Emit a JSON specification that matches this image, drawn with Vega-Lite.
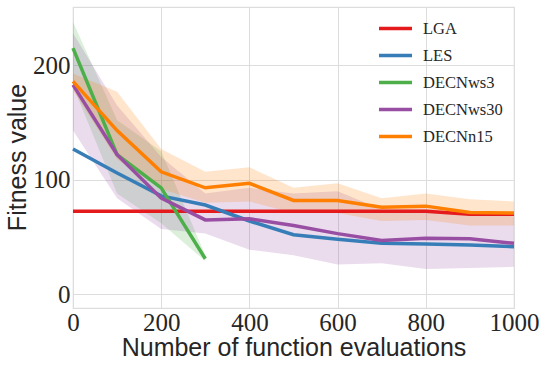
{
  "$schema": "https://vega.github.io/schema/vega-lite/v6.json",
  "width": 441,
  "height": 301,
  "autosize": {"type": "none"},
  "padding": {"left": 73, "top": 7, "right": 34, "bottom": 58},
  "background": "white",
  "config": {
    "view": {"stroke": "#dddddd", "strokeWidth": 1.2},
    "axis": {
      "grid": true,
      "gridColor": "#dddddd",
      "gridWidth": 1,
      "domain": false,
      "ticks": false,
      "labelFont": "Liberation Serif",
      "labelFontSize": 25,
      "labelColor": "#262626",
      "titleFont": "Liberation Sans",
      "titleFontSize": 25,
      "titleFontWeight": "normal",
      "titleColor": "#262626"
    },
    "legend": {
      "labelFont": "Liberation Serif",
      "labelFontSize": 16.5,
      "labelColor": "#262626"
    }
  },
  "data": {
    "values": [
      {"method": "LGA", "x": 0, "y": 72.5},
      {"method": "LGA", "x": 100, "y": 72.5},
      {"method": "LGA", "x": 200, "y": 72.5},
      {"method": "LGA", "x": 300, "y": 72.5},
      {"method": "LGA", "x": 400, "y": 72.5},
      {"method": "LGA", "x": 500, "y": 72.5},
      {"method": "LGA", "x": 600, "y": 72.5},
      {"method": "LGA", "x": 700, "y": 72.5},
      {"method": "LGA", "x": 800, "y": 72.5},
      {"method": "LGA", "x": 900, "y": 70},
      {"method": "LGA", "x": 1000, "y": 70},
      {"method": "LES", "x": 0, "y": 127},
      {"method": "LES", "x": 100, "y": 106},
      {"method": "LES", "x": 200, "y": 86},
      {"method": "LES", "x": 300, "y": 78},
      {"method": "LES", "x": 400, "y": 64},
      {"method": "LES", "x": 500, "y": 52},
      {"method": "LES", "x": 600, "y": 48},
      {"method": "LES", "x": 700, "y": 44.5},
      {"method": "LES", "x": 800, "y": 44},
      {"method": "LES", "x": 900, "y": 43},
      {"method": "LES", "x": 1000, "y": 41.6},
      {"method": "DECNws3", "x": 0, "y": 215, "lo": 182, "hi": 238},
      {"method": "DECNws3", "x": 100, "y": 122, "lo": 88, "hi": 152},
      {"method": "DECNws3", "x": 200, "y": 93, "lo": 62, "hi": 125},
      {"method": "DECNws3", "x": 300, "y": 31, "lo": 29, "hi": 34},
      {"method": "DECNws30", "x": 0, "y": 183, "lo": 143, "hi": 228},
      {"method": "DECNws30", "x": 100, "y": 122, "lo": 84, "hi": 165},
      {"method": "DECNws30", "x": 200, "y": 84, "lo": 57, "hi": 120},
      {"method": "DECNws30", "x": 300, "y": 65, "lo": 53, "hi": 88},
      {"method": "DECNws30", "x": 400, "y": 66, "lo": 39, "hi": 93},
      {"method": "DECNws30", "x": 500, "y": 60, "lo": 34, "hi": 88},
      {"method": "DECNws30", "x": 600, "y": 53, "lo": 26, "hi": 90},
      {"method": "DECNws30", "x": 700, "y": 47, "lo": 27, "hi": 74},
      {"method": "DECNws30", "x": 800, "y": 49, "lo": 22, "hi": 75},
      {"method": "DECNws30", "x": 900, "y": 48.5, "lo": 23, "hi": 72},
      {"method": "DECNws30", "x": 1000, "y": 44.5, "lo": 24, "hi": 68},
      {"method": "DECNn15", "x": 0, "y": 186, "lo": 178, "hi": 193},
      {"method": "DECNn15", "x": 100, "y": 143, "lo": 118, "hi": 177},
      {"method": "DECNn15", "x": 200, "y": 107, "lo": 92, "hi": 127},
      {"method": "DECNn15", "x": 300, "y": 93, "lo": 80, "hi": 107},
      {"method": "DECNn15", "x": 400, "y": 97, "lo": 81, "hi": 111},
      {"method": "DECNn15", "x": 500, "y": 82, "lo": 71, "hi": 93},
      {"method": "DECNn15", "x": 600, "y": 82, "lo": 71, "hi": 97},
      {"method": "DECNn15", "x": 700, "y": 76, "lo": 64, "hi": 84},
      {"method": "DECNn15", "x": 800, "y": 77, "lo": 65, "hi": 88},
      {"method": "DECNn15", "x": 900, "y": 71.5, "lo": 60, "hi": 83},
      {"method": "DECNn15", "x": 1000, "y": 71, "lo": 60, "hi": 81}
    ]
  },
  "encoding": {
    "x": {
      "field": "x",
      "type": "quantitative",
      "scale": {"domain": [0, 1000], "nice": false, "zero": false},
      "axis": {
        "values": [0, 200, 400, 600, 800, 1000],
        "format": "d",
        "title": "Number of function evaluations",
        "labelPadding": 2,
        "labelFlush": false,
        "titleX": 220.5,
        "titleY": 47,
        "titleBaseline": "alphabetic",
        "titleAlign": "center"
      }
    }
  },
  "layer": [
    {
      "transform": [{"filter": "datum.method === 'DECNws3'"}],
      "mark": {"type": "area", "fill": "#4daf4a", "fillOpacity": 0.2},
      "encoding": {
        "y": {"field": "lo", "type": "quantitative"},
        "y2": {"field": "hi"}
      }
    },
    {
      "transform": [{"filter": "datum.method === 'DECNws30'"}],
      "mark": {"type": "area", "fill": "#984ea3", "fillOpacity": 0.2},
      "encoding": {
        "y": {"field": "lo", "type": "quantitative"},
        "y2": {"field": "hi"}
      }
    },
    {
      "transform": [{"filter": "datum.method === 'DECNn15'"}],
      "mark": {"type": "area", "fill": "#ff7f00", "fillOpacity": 0.2},
      "encoding": {
        "y": {"field": "lo", "type": "quantitative"},
        "y2": {"field": "hi"}
      }
    },
    {
      "mark": {"type": "line", "strokeWidth": 3.5},
      "encoding": {
        "y": {
          "field": "y",
          "type": "quantitative",
          "scale": {"domain": [-12, 251], "nice": false, "zero": false},
          "axis": {
            "values": [0, 100, 200],
            "title": "Fitness value",
            "labelPadding": 3,
            "labelFlush": false,
            "titleAngle": -90,
            "titleX": -48,
            "titleY": 150,
            "titleBaseline": "alphabetic",
            "titleAlign": "center"
          }
        },
        "color": {
          "field": "method",
          "type": "nominal",
          "sort": ["LGA", "LES", "DECNws3", "DECNws30", "DECNn15"],
          "scale": {
            "domain": ["LGA", "LES", "DECNws3", "DECNws30", "DECNn15"],
            "range": ["#e41a1c", "#377eb8", "#4daf4a", "#984ea3", "#ff7f00"]
          },
          "legend": {
            "title": null,
            "orient": "none",
            "legendX": 304,
            "legendY": 3,
            "padding": 0,
            "symbolType": "stroke",
            "symbolSize": 1089,
            "symbolStrokeWidth": 3.5,
            "rowPadding": -15.4,
            "labelOffset": 9,
            "labelFontSize": 16.5
          }
        }
      }
    }
  ]
}
